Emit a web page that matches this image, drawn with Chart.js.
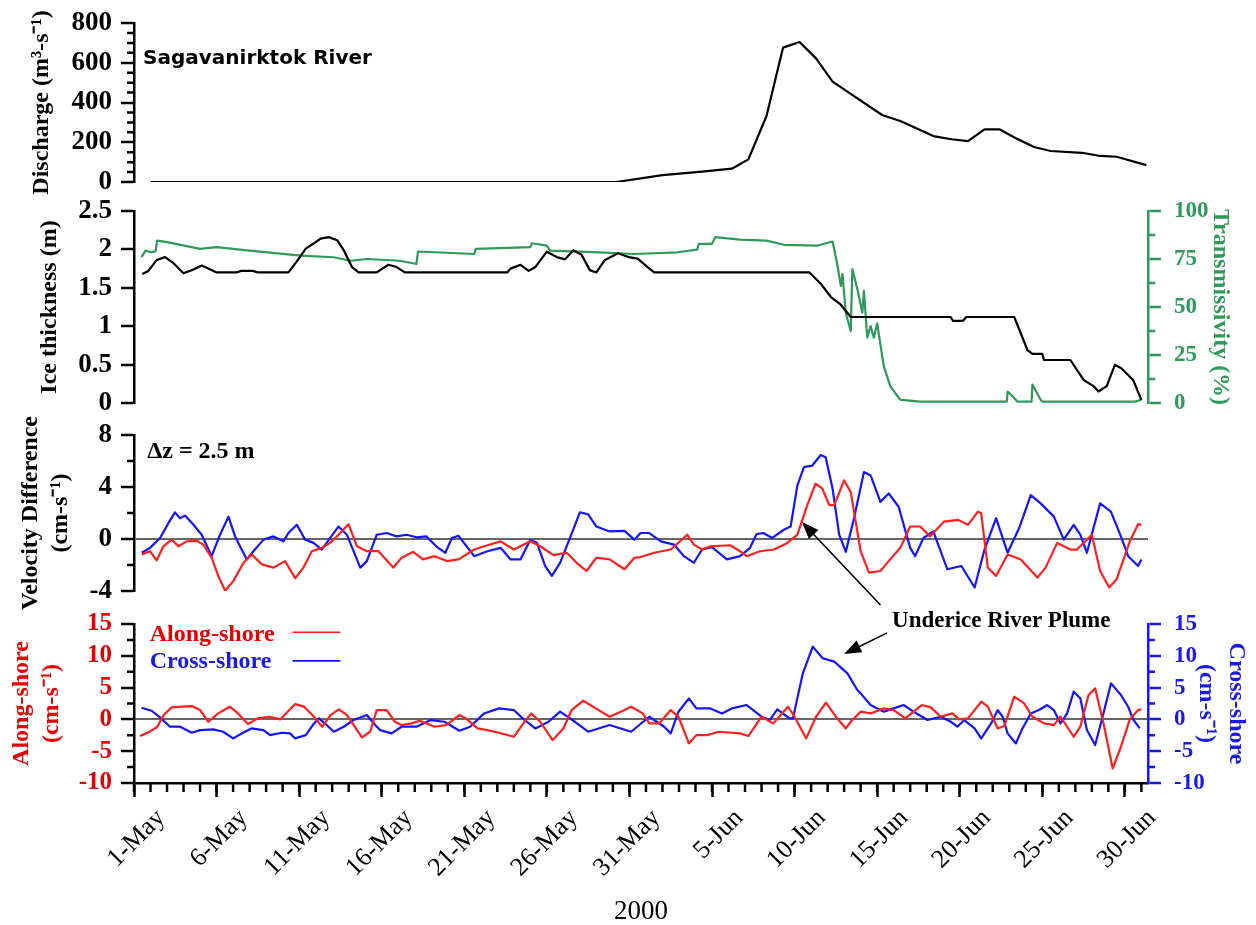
<!DOCTYPE html>
<html><head><meta charset="utf-8">
<script src="https://cdn.jsdelivr.net/npm/chart.js@4.4.1/dist/chart.umd.min.js"></script>
<style>
html,body{margin:0;padding:0;background:#fff;}
#wrap{position:relative;width:1256px;height:925px;overflow:hidden;background:#fff;}
canvas{position:absolute;left:0;}
</style></head><body>
<div id="wrap">
<canvas id="c1" width="1256" height="200" style="top:0px;width:1256px;height:200px"></canvas>
<canvas id="c2" width="1256" height="230" style="top:190px;width:1256px;height:230px"></canvas>
<canvas id="c3" width="1256" height="230" style="top:415px;width:1256px;height:230px"></canvas>
<canvas id="c4" width="1256" height="325" style="top:600px;width:1256px;height:325px"></canvas>
</div>
<script>
// ---------------- DATA (day 0 = 1-May-2000) ----------------
const xTickDays = [0,5,10,15,20,25,30,35,40,45,50,55,60];
const xTickLabels = ['1-May','6-May','11-May','16-May','21-May','26-May','31-May','5-Jun','10-Jun','15-Jun','20-Jun','25-Jun','30-Jun'];

const dischargeDays = [1,29.2,32.0,34.4,36.2,37.2,38.3,39.3,40.3,41.3,42.3,45.3,46.4,48.4,49.5,50.5,51.5,52.4,53.4,54.5,55.5,57.4,58.5,59.5,61.3];
const dischargeVals = [0,0,35,52,67,114,332,676,704,622,505,337,307,231,215,206,265,265,220,176,156,147,131,127,85];

const iceDays = [0.5,0.87,1.37,1.88,2.39,3.0,3.5,4.1,4.5,5.0,6.2,6.5,7.2,7.5,9.35,9.85,10.4,10.9,11.3,11.8,12.3,12.7,13.2,13.6,14.7,15.4,15.9,16.4,22.6,22.8,23.4,23.9,24.3,25.0,25.6,26.1,26.6,27.1,27.6,28.0,28.5,29.3,29.95,30.5,31.1,31.5,40.9,41.6,42.2,42.8,43.4,49.45,49.6,50.2,50.4,53.3,54.1,54.4,55.0,55.1,56.7,57.5,58.1,58.4,58.9,59.4,59.8,60.5,61.0];
const iceVals = [1.68,1.72,1.86,1.90,1.82,1.69,1.73,1.79,1.75,1.70,1.70,1.72,1.72,1.70,1.70,1.84,2.01,2.08,2.14,2.16,2.12,1.99,1.77,1.70,1.70,1.80,1.77,1.70,1.70,1.75,1.80,1.72,1.77,1.97,1.90,1.87,1.99,1.93,1.73,1.70,1.86,1.95,1.90,1.88,1.77,1.70,1.70,1.55,1.38,1.28,1.12,1.12,1.07,1.07,1.12,1.12,0.69,0.64,0.64,0.56,0.56,0.30,0.22,0.15,0.22,0.50,0.45,0.30,0.04];

const transDays = [0.45,0.7,1.0,1.3,1.4,2.0,4.0,5.0,7.0,10.1,12.1,13.1,14.1,16.1,17.1,17.2,20.6,20.7,24.0,24.1,25.0,25.2,28.2,30.3,32.9,34.1,34.2,35.0,35.2,36.7,38.3,39.35,41.4,42.3,42.6,42.8,42.9,43.1,43.4,43.5,43.8,44.1,44.2,44.4,44.6,44.8,45.0,45.4,45.8,46.4,46.8,47.6,52.85,52.9,53.2,53.5,54.35,54.4,54.9,55.0,60.6,61.0];
const transVals = [76,79.4,78.5,79,84.6,83.8,80.3,81.2,79.4,76.8,75.9,74.1,75,74.1,72.4,78.9,77.6,80.3,81.2,83.2,82,79.4,78.5,77.6,78.5,79.9,82.9,82.9,86.4,85.1,84.6,82.4,82.0,84.1,71.5,61,67.2,47,37.5,69.8,59.3,47.1,58.4,34,40.1,34,41.5,19.2,8.7,1.7,1.4,0.7,0.7,6,3.5,0.7,0.7,9.6,1.7,0.7,0.7,1.7];

const dvCrossDays = [0.47,0.97,1.58,2.08,2.48,2.79,3.09,3.6,4.1,4.7,5.21,5.72,6.12,6.83,7.23,7.84,8.44,9.05,9.35,9.86,10.36,10.87,11.37,11.88,12.38,12.89,13.7,14.1,14.7,15.3,15.9,16.5,17.1,17.7,18.3,18.85,19.25,19.65,20.06,20.6,21.4,22.2,22.8,23.4,24.0,24.4,24.9,25.3,25.8,26.4,27.0,27.5,28.0,28.8,29.7,30.3,30.67,31.2,31.9,32.7,33.3,33.9,34.4,35.0,35.9,36.7,37.3,37.7,38.1,38.65,39.35,39.76,40.17,40.57,41.07,41.58,41.88,42.3,42.7,43.1,43.6,44.2,44.6,45.2,45.7,46.3,47.0,47.3,47.8,48.4,49.25,50.1,50.9,51.5,52.2,52.9,53.6,54.3,54.9,55.7,56.3,56.9,57.3,57.7,58.5,59.15,59.76,60.2,60.8,61.0];
const dvCrossVals = [-1.06,-0.68,0.08,1.22,2.05,1.6,1.8,1.09,0.33,-1.32,0.33,1.72,0.2,-1.57,-0.94,-0.05,0.2,-0.18,0.46,1.09,-0.05,-0.3,-0.81,0.08,0.96,0.33,-2.2,-1.7,0.33,0.46,0.2,0.33,0.13,0.2,-0.56,-1.06,0.08,0.25,-0.43,-1.32,-0.94,-0.68,-1.57,-1.57,-0.05,-0.3,-2.08,-2.84,-1.83,0.08,2.05,1.9,0.96,0.58,0.63,-0.05,0.46,0.46,-0.18,-0.43,-1.32,-1.83,-0.81,-0.63,-1.57,-1.32,-0.68,0.38,0.46,0.08,0.71,0.96,4.13,5.53,5.65,6.46,6.29,3.88,0.33,-0.99,1.6,5.15,4.89,2.86,3.5,2.48,-0.68,-1.32,0.08,0.58,-2.33,-2.08,-3.73,-0.81,1.6,-1.06,0.84,3.37,2.74,1.72,-0.05,1.09,0.33,-1.06,2.74,2.1,0.2,-1.32,-2.08,-1.57];

const dvAlongDays = [0.47,0.97,1.37,1.78,2.28,2.69,3.19,3.8,4.2,4.7,5.1,5.52,6.02,6.63,7.13,7.74,8.44,9.15,9.76,10.26,10.77,11.37,11.88,12.38,12.99,13.5,14.1,14.8,15.7,16.2,16.9,17.5,18.2,18.95,19.65,20.6,21.4,22.2,23.0,24.0,24.6,25.4,26.2,26.8,27.4,28.0,28.8,29.7,30.3,30.67,31.5,32.5,33.5,33.9,34.4,34.9,36.1,36.7,37.1,37.9,38.75,39.56,40.17,40.77,41.27,41.68,42.1,42.4,43.0,43.4,44.0,44.5,45.2,45.7,46.4,47.0,47.6,48.2,49.05,49.9,50.5,51.1,51.3,51.7,52.2,52.9,53.7,54.7,55.2,55.9,56.7,57.1,58.0,58.5,59.05,59.5,60.3,60.8,61.0];
const dvAlongVals = [-1.19,-0.94,-1.65,-0.56,-0.05,-0.56,-0.18,-0.13,-0.43,-1.44,-2.84,-3.98,-3.22,-1.83,-1.19,-1.95,-2.2,-1.7,-3.02,-2.2,-0.94,-0.68,-0.3,0.33,1.14,-0.56,-0.94,-0.94,-2.2,-1.44,-0.99,-1.57,-1.32,-1.7,-1.57,-0.81,-0.48,-0.18,-0.81,-0.18,-0.56,-1.24,-1.06,-1.83,-2.46,-1.44,-1.57,-2.33,-1.44,-1.39,-1.06,-0.81,0.33,-0.43,-0.81,-0.56,-0.48,-0.94,-1.32,-0.94,-0.81,-0.3,0.33,2.61,4.26,3.88,2.61,2.61,4.51,3.62,-0.94,-2.59,-2.46,-1.7,-0.68,0.96,0.96,0.2,1.34,1.47,1.09,2.1,1.98,-2.2,-2.84,-1.19,-1.57,-2.97,-2.2,-0.3,-0.81,-0.81,0.33,-2.46,-3.73,-3.09,-0.18,1.14,1.09];

const alongDays = [0.36,0.9,1.4,1.8,2.28,2.89,3.5,4.0,4.5,5.1,5.8,6.3,6.9,7.5,8.2,8.85,9.76,10.3,10.9,11.4,11.9,12.4,12.9,13.8,14.3,14.7,15.3,15.8,16.2,16.8,17.3,18.2,18.9,19.7,20.1,20.8,21.4,22.1,23.0,23.5,24.05,24.6,25.35,26.0,26.5,27.2,27.96,28.8,29.7,30.1,30.8,31.2,31.8,32.5,32.97,33.6,34.05,34.7,35.4,36.7,37.2,38.0,38.7,39.6,40.0,40.7,41.3,41.9,42.5,43.1,43.4,44.0,44.6,45.4,46.0,46.7,47.7,48.25,48.85,49.56,49.97,50.5,51.3,51.7,52.3,52.7,53.3,53.9,54.4,55.1,55.7,56.1,56.9,57.3,57.8,58.2,58.75,59.26,59.76,60.3,60.8,61.0];
const alongVals = [-2.6,-2.0,-1.2,0.68,1.89,2.0,2.1,1.47,-0.37,0.94,2.0,0.94,-0.73,0.16,0.42,0,2.41,2.0,0.42,-1.15,0.68,1.57,0.68,-2.83,-1.94,1.47,1.47,-0.37,-0.89,-0.63,-0.21,-1.15,-0.89,0.68,0.16,-1.42,-1.68,-2.1,-2.73,-0.89,0.94,-0.37,-3.25,-1.42,1.47,2.94,1.73,0.42,1.47,1.99,0.94,-0.63,-0.63,1.47,0.42,-3.78,-2.47,-2.47,-1.94,-2.2,-2.62,0.42,-0.63,1.99,0.42,-2.99,0.42,2.62,0.42,-1.42,-0.37,1.21,0.94,1.73,1.47,0.16,2.26,1.89,0.42,0.94,0,0.16,2.78,2.0,-1.42,-1.05,3.57,2.52,0.42,-0.63,-0.89,0.42,-2.73,-1.15,3.83,4.88,-1.15,-7.72,-4.3,0,1.47,1.57];

const crossDays = [0.46,1.07,1.57,2.18,2.79,3.5,4.0,4.8,5.4,6.0,6.6,7.1,7.84,8.24,8.95,9.45,9.76,10.4,10.9,11.2,11.6,12.1,12.7,13.3,14.1,14.6,14.9,15.6,16.2,17.1,17.96,18.8,19.7,20.35,21.2,22.1,23.0,23.6,24.3,25.1,25.8,26.7,27.5,28.8,30.1,31.2,32.1,32.5,32.97,33.6,34.05,34.9,35.6,36.2,37.1,38.0,38.5,38.95,39.7,39.9,40.5,41.1,41.7,42.4,43.2,43.8,44.0,44.6,45.4,46.0,46.6,47.2,48.05,48.85,49.46,49.86,50.27,50.9,51.3,51.9,52.3,52.6,52.9,53.4,53.8,54.3,54.8,55.3,55.7,56.1,56.5,56.9,57.3,57.7,58.2,58.65,59.16,59.76,60.2,60.5,60.9];
const crossVals = [1.84,1.36,0.31,-1.15,-1.15,-2.1,-1.68,-1.57,-1.94,-2.99,-2.1,-1.42,-1.68,-2.47,-2.1,-2.2,-2.99,-2.47,-0.63,0.16,-0.73,-1.94,-1.15,-0.1,0.68,-0.89,-1.68,-2.2,-1.15,-1.15,-0.1,-0.37,-1.78,-1.15,0.94,1.73,1.47,0,-1.42,-0.37,1.21,-0.37,-1.94,-0.89,-1.94,0.42,-1.15,-2.2,1.21,3.31,1.73,1.73,0.94,1.73,2.26,0.42,-0.1,1.57,0.16,0.16,7.24,11.44,9.61,9.08,7.24,4.62,4.09,2.26,1.21,1.73,2.26,1.21,-0.1,0.42,-0.37,-1.15,-0.1,-1.42,-2.99,-0.63,1.47,0.42,-2.2,-3.78,-1.42,0.94,1.47,2.26,1.47,-0.63,0.94,4.36,3.31,-1.68,-4.04,0.42,5.67,3.83,1.99,0,-1.42];

const dischargeTicks = [0,200,400,600,800];
const dischargeMinor = [50,100,150,250,300,350,450,500,550,650,700,750];
const iceTicks = [0,0.5,1,1.5,2,2.5];
const transTicks = [0,25,50,75,100];
const transMinor = [12.5,37.5,62.5,87.5];
const dvTicks = [-4,0,4,8];
const dvMinor = [-2,2,6];
const velTicks = [-10,-5,0,5,10,15];
const velMinor = [-7.5,-2.5,2.5,7.5,12.5];

// ---------------- STYLE ----------------
const SERIF = "'Liberation Serif','Times New Roman',serif";
const X_MIN = 0, X_MAX = 61.4;
const LEFT_W = 134, RIGHT_W = 108;
const GREEN = '#2e9a58', RED = '#ff1f1f', BLUE = '#1414ff';
const RED_T = '#e80000', BLUE_T = '#1a1ae6';
const TITLEFONT = {family: SERIF, size: 24, weight: 'bold', lineHeight: 1.25};

const zip = (xs, ys) => xs.map((x, i) => ({x: x, y: ys[i]}));
const lineDs = (label, xs, ys, color, axis) => ({label, data: zip(xs, ys), borderColor: color, borderWidth: 2.2, pointRadius: 0, tension: 0, yAxisID: axis, borderJoinStyle: 'round', fill: false});
const noPad = s => { s.paddingTop = 0; s.paddingBottom = 0; s.paddingLeft = 0; s.paddingRight = 0; };

function yScale(o) {
  const left = o.pos === 'left';
  return {
    type: 'linear', position: o.pos, min: o.min, max: o.max,
    afterBuildTicks: s => { s.ticks = o.ticks.map(v => ({value: v})); },
    afterFit: s => { s.width = left ? LEFT_W : RIGHT_W; noPad(s); },
    border: {display: true, color: o.axisColor, width: 2.5},
    grid: {drawOnChartArea: !!o.zero, drawTicks: true, tickLength: 13, tickWidth: 2.5, tickColor: o.axisColor,
           lineWidth: 2, color: c => (o.zero && c.tick && c.tick.value === 0) ? '#666' : 'rgba(0,0,0,0)'},
    ticks: {autoSkip: false, color: o.labelColor, font: {family: SERIF, size: o.fontSize || (left ? 27 : 23), weight: 'bold'},
            padding: left ? 9 : 13, callback: v => String(v)},
    title: {display: true, text: o.title, color: o.titleColor, font: TITLEFONT, padding: {top: o.titlePad, bottom: 0}}
  };
}
const hiddenX = {type: 'linear', min: X_MIN, max: X_MAX, display: false};

const minorTicks = {
  id: 'minorTicks',
  afterDraw(chart, args, opts) {
    const ctx = chart.ctx;
    (opts.list || []).forEach(m => {
      const sc = chart.scales[m.scale];
      ctx.save(); ctx.strokeStyle = m.color; ctx.lineWidth = 2.5; ctx.beginPath();
      m.values.forEach(v => {
        const p = sc.getPixelForValue(v);
        if (sc.isHorizontal()) { ctx.moveTo(p, sc.top); ctx.lineTo(p, sc.top + m.len); }
        else if (sc.position === 'left') { ctx.moveTo(sc.right, p); ctx.lineTo(sc.right - m.len, p); }
        else { ctx.moveTo(sc.left, p); ctx.lineTo(sc.left + m.len, p); }
      });
      ctx.stroke(); ctx.restore();
    });
  }
};

function arrow(ctx, x1, y1, x2, y2) {
  const a = Math.atan2(y2 - y1, x2 - x1), L = 17, Wd = 6.5;
  ctx.save(); ctx.strokeStyle = '#000'; ctx.fillStyle = '#000'; ctx.lineWidth = 1.6;
  ctx.beginPath(); ctx.moveTo(x1, y1); ctx.lineTo(x2 - L * 0.8 * Math.cos(a), y2 - L * 0.8 * Math.sin(a)); ctx.stroke();
  ctx.beginPath(); ctx.moveTo(x2, y2);
  ctx.lineTo(x2 - L * Math.cos(a) + Wd * Math.sin(a), y2 - L * Math.sin(a) - Wd * Math.cos(a));
  ctx.lineTo(x2 - L * Math.cos(a) - Wd * Math.sin(a), y2 - L * Math.sin(a) + Wd * Math.cos(a));
  ctx.closePath(); ctx.fill(); ctx.restore();
}

const common = {responsive: false, animation: false, events: [], parsing: false, normalized: true};
const basePlugins = {legend: {display: false}, tooltip: {enabled: false}};

// ---------------- PANEL 1: discharge ----------------
new Chart(document.getElementById('c1'), {
  type: 'line',
  data: {datasets: [lineDs('Discharge', dischargeDays, dischargeVals, '#000', 'y')]},
  options: Object.assign({}, common, {
    layout: {padding: {left: 0, right: RIGHT_W, top: 23, bottom: 18}},
    scales: {x: hiddenX, y: yScale({pos: 'left', min: 0, max: 800, ticks: dischargeTicks, axisColor: '#000', labelColor: '#000', title: 'Discharge (m³-s⁻¹)', titleColor: '#000', titlePad: 27})},
    plugins: Object.assign({}, basePlugins, {minorTicks: {list: [{scale: 'y', values: dischargeMinor, len: 7, color: '#000'}]}})
  }),
  plugins: [minorTicks, {id: 'p1text', afterDraw(c) {
    const ctx = c.ctx; ctx.save(); ctx.fillStyle = '#000';
    ctx.font = "bold 20px 'DejaVu Sans'"; ctx.textBaseline = 'middle';
    ctx.fillText('Sagavanirktok River', c.scales.x.getPixelForValue(0.55), c.scales.y.getPixelForValue(620));
    ctx.restore();
  }}]
});

// ---------------- PANEL 2: ice thickness & transmissivity ----------------
new Chart(document.getElementById('c2'), {
  type: 'line',
  data: {datasets: [
    lineDs('Ice thickness', iceDays, iceVals, '#000', 'y'),
    lineDs('Transmissivity', transDays, transVals, GREEN, 'y2')
  ]},
  options: Object.assign({}, common, {
    layout: {padding: {left: 0, right: 0, top: 21, bottom: 17}},
    scales: {
      x: hiddenX,
      y: yScale({pos: 'left', min: 0, max: 2.5, ticks: iceTicks, axisColor: '#000', labelColor: '#000', title: 'Ice thickness (m)', titleColor: '#000', titlePad: 35}),
      y2: yScale({pos: 'right', min: 0, max: 100, ticks: transTicks, axisColor: GREEN, labelColor: GREEN, title: 'Transmissivity (%)', titleColor: GREEN, titlePad: 21})
    },
    plugins: Object.assign({}, basePlugins, {minorTicks: {list: [{scale: 'y2', values: transMinor, len: 7, color: GREEN}]}})
  }),
  plugins: [minorTicks]
});

// ---------------- PANEL 3: velocity difference ----------------
new Chart(document.getElementById('c3'), {
  type: 'line',
  data: {datasets: [
    lineDs('Along-shore difference', dvAlongDays, dvAlongVals, RED, 'y'),
    lineDs('Cross-shore difference', dvCrossDays, dvCrossVals, BLUE, 'y')
  ]},
  options: Object.assign({}, common, {
    layout: {padding: {left: 0, right: RIGHT_W, top: 20, bottom: 54}},
    scales: {x: hiddenX, y: yScale({pos: 'left', min: -4, max: 8, ticks: dvTicks, zero: true, axisColor: '#000', labelColor: '#000', title: ['Velocity Difference', '(cm-s⁻¹)'], titleColor: '#000', titlePad: 16})},
    plugins: Object.assign({}, basePlugins, {minorTicks: {list: [{scale: 'y', values: dvMinor, len: 7, color: '#000'}]}})
  }),
  plugins: [minorTicks, {id: 'p3text', afterDraw(c) {
    const ctx = c.ctx, x = c.scales.x, y = c.scales.y, ca = c.chartArea;
    ctx.save(); ctx.fillStyle = '#000'; ctx.textBaseline = 'middle';
    ctx.font = "bold 24px " + SERIF;
    ctx.fillText('Δz = 2.5 m', x.getPixelForValue(0.8), y.getPixelForValue(6.7));
    ctx.font = "bold 23px " + SERIF;
    ctx.fillText('Underice River Plume', x.getPixelForValue(45.9), ca.bottom + 30);
    ctx.restore();
    arrow(ctx, x.getPixelForValue(45.2), ca.bottom + 14, x.getPixelForValue(40.45), y.getPixelForValue(1.3));
  }}]
});

// ---------------- PANEL 4: along-shore & cross-shore ----------------
new Chart(document.getElementById('c4'), {
  type: 'line',
  data: {datasets: [
    lineDs('Along-shore', alongDays, alongVals, RED, 'yL'),
    lineDs('Cross-shore', crossDays, crossVals, BLUE, 'yR')
  ]},
  options: Object.assign({}, common, {
    layout: {padding: {left: 0, right: 0, top: 24, bottom: 0}},
    scales: {
      x: {type: 'linear', position: 'bottom', min: X_MIN, max: X_MAX,
        afterBuildTicks: s => { s.ticks = xTickDays.map(v => ({value: v})); },
        afterFit: s => { s.height = 142; noPad(s); },
        border: {display: true, color: '#000', width: 2.5},
        grid: {drawOnChartArea: false, tickLength: 14, tickWidth: 2.5, tickColor: '#000', color: 'rgba(0,0,0,0)'},
        ticks: {autoSkip: false, minRotation: 45, maxRotation: 45, labelOffset: 27, padding: 6, color: '#000',
                font: {family: SERIF, size: 26}, callback: (v, i) => xTickLabels[i]},
        title: {display: true, text: '2000', color: '#000', font: {family: SERIF, size: 27, lineHeight: 1}, padding: {top: 0, bottom: 0}}
      },
      yL: yScale({pos: 'left', min: -10, max: 15, ticks: velTicks, zero: true, fontSize: 25, axisColor: '#000', labelColor: RED_T, title: ['Along-shore', '(cm-s⁻¹)'], titleColor: RED_T, titlePad: 7}),
      yR: yScale({pos: 'right', min: -10, max: 15, ticks: velTicks, axisColor: BLUE, labelColor: BLUE_T, title: ['Cross-shore', '(cm-s⁻¹)'], titleColor: BLUE_T, titlePad: 5})
    },
    plugins: Object.assign({}, basePlugins, {minorTicks: {list: [
      {scale: 'yL', values: velMinor, len: 7, color: '#000'},
      {scale: 'yR', values: velMinor, len: 7, color: BLUE},
      {scale: 'x', values: Array.from({length: 62}, (_, i) => i), len: 9, color: '#000'}
    ]}})
  }),
  plugins: [minorTicks, {id: 'p4text', afterDraw(c) {
    const ctx = c.ctx, x = c.scales.x, y = c.scales.yL;
    ctx.save(); ctx.textBaseline = 'middle'; ctx.font = "bold 24px " + SERIF;
    const ds = c.data.datasets;
    [[ds[0], 13.25, 13.7], [ds[1], 9.0, 9.2]].forEach(([d, ty, ly]) => {
      ctx.fillStyle = d.borderColor === RED ? RED_T : BLUE_T;
      ctx.fillText(d.label, x.getPixelForValue(0.95), y.getPixelForValue(ty));
      ctx.strokeStyle = d.borderColor; ctx.lineWidth = 1.6;
      ctx.beginPath(); ctx.moveTo(x.getPixelForValue(9.6), y.getPixelForValue(ly)); ctx.lineTo(x.getPixelForValue(12.5), y.getPixelForValue(ly)); ctx.stroke();
    });
    ctx.restore();
    arrow(ctx, x.getPixelForValue(45.6), y.getPixelForValue(13.6), x.getPixelForValue(43.0), y.getPixelForValue(10.3));
  }}]
});
</script>
</body></html>
